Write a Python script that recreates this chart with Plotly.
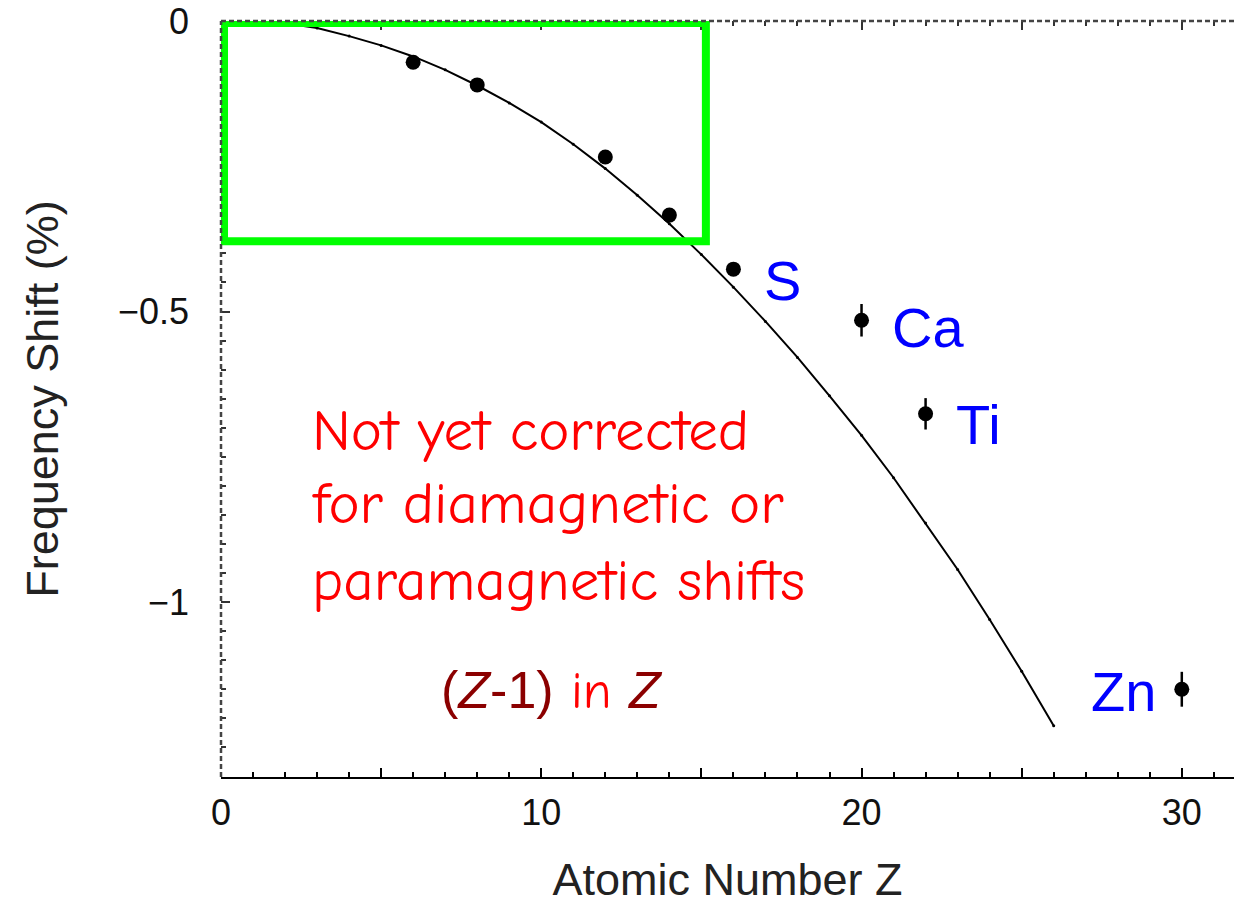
import plotly.graph_objects as go

# ---- data ----
curve_z = list(range(1, 27))
curve_shift = [0.0, -0.004, -0.012, -0.026, -0.042, -0.061, -0.084, -0.111, -0.141, -0.174,
               -0.212, -0.254, -0.300, -0.349, -0.402, -0.458, -0.517, -0.579, -0.645, -0.713,
               -0.786, -0.864, -0.944, -1.030, -1.119, -1.213]

meas_z = [6, 8, 12, 14, 16, 20, 22, 30]
meas_shift = [-0.071, -0.110, -0.234, -0.334, -0.427, -0.515, -0.676, -1.150]
meas_err = [0.008, 0.008, 0.008, 0.008, 0.008, 0.028, 0.027, 0.030]

elem_labels = ["S", "Ca", "Ti", "Zn"]
elem_label_x = [16.9, 20.9, 22.9, 27.1]
elem_label_y = [-0.447, -0.527, -0.694, -1.153]

x_tickvals = [0, 5, 10, 15, 20, 25, 30]
x_ticktext = ["0", "", "10", "", "20", "", "30"]
y_tickvals = [0, -0.5, -1]
y_ticktext = ["0", "\u22120.5", "\u22121"]

note_lines = ["Not yet corrected", "for diamagnetic or", "paramagnetic shifts"]
note_y = [-0.705, -0.832, -0.963]

X_RANGE = [0, 31.63]
Y_RANGE = [-1.301, 0]

AX_FONT = "Liberation Sans, Arial, Helvetica, sans-serif"
COMIC = "Comic Sans MS, Comic Neue, Lato, sans-serif"

fig = go.Figure()

fig.add_trace(go.Scatter(
    x=curve_z, y=curve_shift, mode="lines+markers",
    line=dict(color="black", width=2),
    marker=dict(color="black", size=3),
    showlegend=False, hoverinfo="skip"))

fig.add_trace(go.Scatter(
    x=meas_z, y=meas_shift, mode="markers",
    marker=dict(color="black", size=15),
    error_y=dict(type="data", array=meas_err, visible=True, color="black",
                 thickness=2.5, width=0),
    showlegend=False))

# invisible trace for top axis
fig.add_trace(go.Scatter(x=X_RANGE, y=Y_RANGE, xaxis="x2", mode="markers",
                         marker=dict(opacity=0), showlegend=False, hoverinfo="skip"))

# green rectangle
fig.add_shape(type="rect", xref="x", yref="y", x0=0.094, x1=15.14, y0=-0.379, y1=-0.0034,
              line=dict(color="#00FF00", width=8), layer="above")

# dashed left and top axis lines
fig.add_shape(type="line", xref="paper", yref="paper", x0=0, x1=0, y0=0, y1=1,
              line=dict(color="#444444", width=2.5, dash="5px,3px"))
fig.add_shape(type="line", xref="paper", yref="paper", x0=0, x1=1, y0=1, y1=1,
              line=dict(color="#444444", width=2.5, dash="5px,3px"))

for lab, lx, ly in zip(elem_labels, elem_label_x, elem_label_y):
    fig.add_annotation(x=lx, y=ly, text=lab, showarrow=False, xanchor="left", yanchor="middle",
                       font=dict(family=AX_FONT, size=56, color="#0000FF"))

for txt, ny in zip(note_lines, note_y):
    fig.add_annotation(x=2.78, y=ny, text=txt, showarrow=False, xanchor="left", yanchor="middle",
                       font=dict(family=COMIC, size=59, color="#FF0000"))

fig.add_annotation(
    x=10.33, y=-1.153, showarrow=False, xanchor="center", yanchor="middle",
    text=("<span style='font-family:Liberation Sans, Arial'>(<i>Z</i>-1)</span> "
          "<span style='color:#FF0000'>in</span> "
          "<span style='font-family:Liberation Sans, Arial'><i>Z</i></span>"),
    font=dict(family=COMIC, size=52, color="#8B0000"))

fig.update_layout(
    width=1234, height=910,
    margin=dict(l=221, r=0, t=21, b=133),
    plot_bgcolor="white", paper_bgcolor="white",
    xaxis=dict(range=X_RANGE, showline=True, linecolor="black", linewidth=2,
               showgrid=False, zeroline=False, ticks="inside", ticklen=9, tickwidth=2,
               tickcolor="black", tickmode="array", tickvals=x_tickvals, ticktext=x_ticktext,
               minor=dict(ticks="inside", dtick=1, tick0=0, ticklen=5, tickwidth=2,
                          tickcolor="black", showgrid=False),
               tickfont=dict(family=AX_FONT, size=36, color="#111111"),
               title=dict(text="Atomic Number Z", font=dict(family=AX_FONT, size=45, color="#222222"),
                          standoff=31),
               ticklabelstandoff=3),
    xaxis2=dict(range=X_RANGE, overlaying="x", side="top", showline=False, showgrid=False,
                zeroline=False, ticks="inside", ticklen=9, tickwidth=2, tickcolor="#333333",
                tickmode="array", tickvals=x_tickvals, showticklabels=False,
                minor=dict(ticks="inside", dtick=1, tick0=0, ticklen=5, tickwidth=2,
                           tickcolor="#333333", showgrid=False)),
    yaxis=dict(range=Y_RANGE, showline=False, showgrid=False, zeroline=False,
               ticks="inside", ticklen=9, tickwidth=2, tickcolor="#333333",
               tickmode="array", tickvals=y_tickvals, ticktext=y_ticktext,
               minor=dict(ticks="inside", dtick=0.05, tick0=0, ticklen=5, tickwidth=2,
                          tickcolor="#333333", showgrid=False),
               tickfont=dict(family=AX_FONT, size=36, color="#111111"),
               title=dict(text="Frequency Shift (%)", font=dict(family=AX_FONT, size=45, color="#222222"),
                          standoff=45),
               ticklabelstandoff=31),
)

fig.write_html("out.html")
